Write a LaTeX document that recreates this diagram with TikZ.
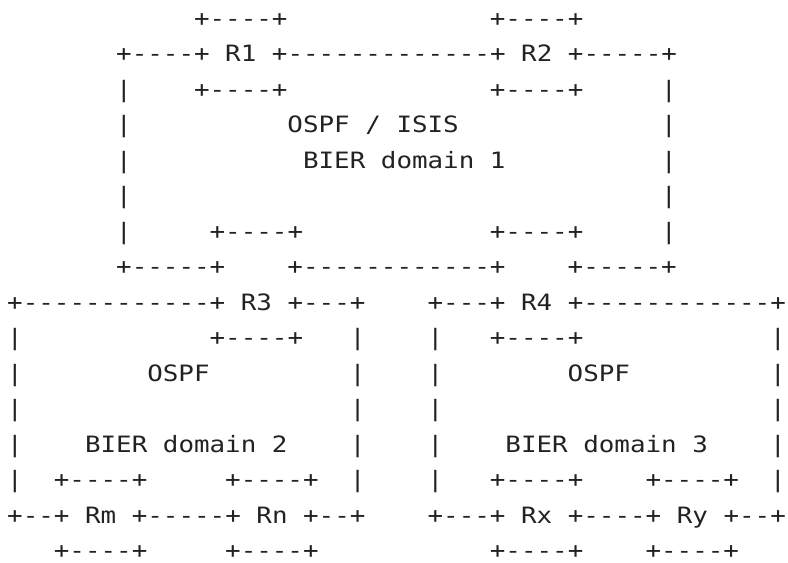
\documentclass[tikz,border=0pt]{standalone}
\usepackage{fontspec}
\usepackage{xcolor}
\usepackage{tikz}
\newfontfamily\asciifont[FakeStretch=1.15]{DejaVu Sans Mono}
\definecolor{asciiink}{HTML}{222222}
\tikzset{ascii/.style={anchor=base west,inner sep=0pt,outer sep=0pt,text depth=0pt,text=asciiink,font=\asciifont\fontsize{22.5pt}{27pt}\selectfont}}

\begin{document}
\begin{tikzpicture}[x=15.57pt,y=-35.5pt]
	\useasboundingbox (-0.4624,-0.7408) rectangle (50.147,15.118);
		\node[ascii] (r0a) at (12,0) {+----+};
		\node[ascii] (r0b) at (31,0) {+----+};
		\node[ascii] (r1a) at (7,1) {+----+ R1 +-------------+ R2 +-----+};
		\node[ascii] (r2a) at (7,2) {|};
		\node[ascii] (r2b) at (12,2) {+----+};
		\node[ascii] (r2c) at (31,2) {+----+};
		\node[ascii] (r2d) at (42,2) {|};
		\node[ascii] (r3a) at (7,3) {|};
		\node[ascii] (r3b) at (18,3) {OSPF / ISIS};
		\node[ascii] (r3c) at (42,3) {|};
		\node[ascii] (r4a) at (7,4) {|};
		\node[ascii] (r4b) at (19,4) {BIER domain 1};
		\node[ascii] (r4c) at (42,4) {|};
		\node[ascii] (r5a) at (7,5) {|};
		\node[ascii] (r5b) at (42,5) {|};
		\node[ascii] (r6a) at (7,6) {|};
		\node[ascii] (r6b) at (13,6) {+----+};
		\node[ascii] (r6c) at (31,6) {+----+};
		\node[ascii] (r6d) at (42,6) {|};
		\node[ascii] (r7a) at (7,7) {+-----+};
		\node[ascii] (r7b) at (18,7) {+------------+};
		\node[ascii] (r7c) at (36,7) {+-----+};
	\node[ascii] (r8a) at (0,8) {+------------+ R3 +---+};
	\node[ascii] (r8b) at (27,8) {+---+ R4 +------------+};
		\node[ascii] (r9a) at (0,9) {|};
		\node[ascii] (r9b) at (13,9) {+----+};
		\node[ascii] (r9c) at (22,9) {|};
		\node[ascii] (r9d) at (27,9) {|};
		\node[ascii] (r9e) at (31,9) {+----+};
		\node[ascii] (r9f) at (49,9) {|};
		\node[ascii] (r10a) at (0,10) {|};
		\node[ascii] (r10b) at (9,10) {OSPF};
		\node[ascii] (r10c) at (22,10) {|};
		\node[ascii] (r10d) at (27,10) {|};
		\node[ascii] (r10e) at (36,10) {OSPF};
		\node[ascii] (r10f) at (49,10) {|};
		\node[ascii] (r11a) at (0,11) {|};
		\node[ascii] (r11b) at (22,11) {|};
		\node[ascii] (r11c) at (27,11) {|};
		\node[ascii] (r11d) at (49,11) {|};
		\node[ascii] (r12a) at (0,12) {|};
		\node[ascii] (r12b) at (5,12) {BIER domain 2};
		\node[ascii] (r12c) at (22,12) {|};
		\node[ascii] (r12d) at (27,12) {|};
		\node[ascii] (r12e) at (32,12) {BIER domain 3};
		\node[ascii] (r12f) at (49,12) {|};
		\node[ascii] (r13a) at (0,13) {|};
		\node[ascii] (r13b) at (3,13) {+----+};
		\node[ascii] (r13c) at (14,13) {+----+};
		\node[ascii] (r13d) at (22,13) {|};
		\node[ascii] (r13e) at (27,13) {|};
		\node[ascii] (r13f) at (31,13) {+----+};
		\node[ascii] (r13g) at (41,13) {+----+};
		\node[ascii] (r13h) at (49,13) {|};
	\node[ascii] (r14a) at (0,14) {+--+ Rm +-----+ Rn +--+};
	\node[ascii] (r14b) at (27,14) {+---+ Rx +----+ Ry +--+};
		\node[ascii] (r15a) at (3,15) {+----+};
		\node[ascii] (r15b) at (14,15) {+----+};
		\node[ascii] (r15c) at (31,15) {+----+};
		\node[ascii] (r15d) at (41,15) {+----+};
\end{tikzpicture}
\end{document}
